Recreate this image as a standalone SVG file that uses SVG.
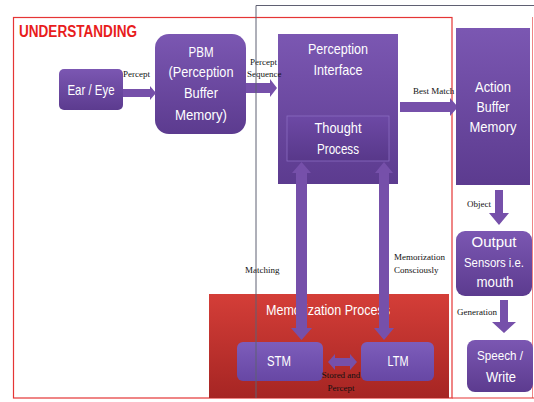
<svg xmlns="http://www.w3.org/2000/svg" width="534" height="402" viewBox="0 0 534 402">
<defs>
<linearGradient id="gp" x1="0" y1="0" x2="0" y2="1"><stop offset="0" stop-color="#7b57b2"/><stop offset="1" stop-color="#5c3b8f"/></linearGradient>
<linearGradient id="gt" x1="0" y1="0" x2="0" y2="1"><stop offset="0" stop-color="#6d49a5"/><stop offset="1" stop-color="#58388a"/></linearGradient>
<linearGradient id="gs" x1="0" y1="0" x2="0" y2="1"><stop offset="0" stop-color="#7d5dbb"/><stop offset="1" stop-color="#6747a4"/></linearGradient>
<linearGradient id="gr" x1="0" y1="0" x2="0" y2="1"><stop offset="0" stop-color="#d43e38"/><stop offset="1" stop-color="#a62523"/></linearGradient>
</defs>
<style>
.box{fill:url(#gp)}
.bt{font-family:"Liberation Sans",Arial,sans-serif;font-size:15px;fill:#fff;text-anchor:middle}
.sm{font-size:13.5px}
.lb{font-family:"Liberation Serif","Times New Roman",serif;font-size:9px;fill:#111}
.ar{fill:#7650aa}
</style>
<rect width="534" height="402" fill="#fff"/>
<g id="understanding">
<rect x="13.5" y="17.5" width="438.5" height="380.5" fill="none" stroke="#e53535" stroke-width="1.2"/>
<line x1="452" y1="398" x2="534" y2="398" stroke="#e53535" stroke-width="1.2"/>
<line x1="532.5" y1="17" x2="532.5" y2="398" stroke="#e53535" stroke-width="1" opacity="0.6"/>
<text x="19" y="37" font-family="Liberation Sans,Arial,sans-serif" font-weight="bold" font-size="16" fill="#e81c1c" textLength="118" lengthAdjust="spacingAndGlyphs">UNDERSTANDING</text>
</g>
<g id="ear-eye">
<rect class="box" x="59" y="69" width="64" height="41" rx="5"/>
<text class="bt" x="91" y="95" textLength="47" lengthAdjust="spacingAndGlyphs">Ear / Eye</text>
</g>
<g id="pbm">
<rect class="box" x="155" y="34" width="91" height="100" rx="14"/>
<text class="bt" x="201" y="57" textLength="25" lengthAdjust="spacingAndGlyphs">PBM</text>
<text class="bt" x="201" y="77" textLength="65" lengthAdjust="spacingAndGlyphs">(Perception</text>
<text class="bt" x="201" y="98" textLength="34" lengthAdjust="spacingAndGlyphs">Buffer</text>
<text class="bt" x="201" y="120" textLength="52" lengthAdjust="spacingAndGlyphs">Memory)</text>
</g>
<g id="perception-interface">
<rect class="box" x="278" y="34" width="120" height="150"/>
<text class="bt" x="338" y="54" textLength="60" lengthAdjust="spacingAndGlyphs">Perception</text>
<text class="bt" x="338" y="75" textLength="49" lengthAdjust="spacingAndGlyphs">Interface</text>
</g>
<g id="thought-process">
<rect x="287" y="116" width="102" height="45" fill="url(#gt)" stroke="#8a6cc0" stroke-width="0.8"/>
<text class="bt" x="338" y="133" textLength="47" lengthAdjust="spacingAndGlyphs">Thought</text>
<text class="bt" x="338" y="154" textLength="42" lengthAdjust="spacingAndGlyphs">Process</text>
</g>
<g id="output-sensors">
<rect class="box" x="456" y="231" width="76" height="65" rx="9"/>
<text class="bt" x="494" y="247" textLength="45" lengthAdjust="spacingAndGlyphs">Output</text>
<text class="bt sm" x="494" y="267" textLength="60" lengthAdjust="spacingAndGlyphs">Sensors i.e.</text>
<text class="bt" x="495" y="287" textLength="37" lengthAdjust="spacingAndGlyphs">mouth</text>
</g>
<g id="speech-write">
<rect class="box" x="467" y="340" width="66" height="52" rx="8"/>
<text class="bt sm" x="500" y="360" textLength="46" lengthAdjust="spacingAndGlyphs">Speech /</text>
<text class="bt" x="501" y="382" textLength="30" lengthAdjust="spacingAndGlyphs">Write</text>
</g>
<g id="memorization-process">
<rect x="209" y="294" width="240" height="104" fill="url(#gr)"/>
<text class="bt" x="328" y="315" textLength="124" lengthAdjust="spacingAndGlyphs">Memorization Process</text>
</g>
<g id="stm">
<rect x="237" y="342" width="86" height="39" rx="6" fill="url(#gs)"/>
<text class="bt" x="279" y="366" textLength="24" lengthAdjust="spacingAndGlyphs">STM</text>
</g>
<g id="ltm">
<rect x="361" y="342" width="73" height="39" rx="6" fill="url(#gs)"/>
<text class="bt" x="398" y="366" textLength="21" lengthAdjust="spacingAndGlyphs">LTM</text>
</g>
<g id="connectors">
<polygon class="ar" points="123,89 150,89 150,86 156,93 150,100 150,97 123,97"/>
<text class="lb" x="123" y="77">Percept</text>
<polygon class="ar" points="246,83 270,83 270,79 277,88 270,97 270,93 246,93"/>
<text class="lb" x="250" y="65">Percept</text>
<text class="lb" x="247" y="77">Sequence</text>
<polygon class="ar" points="400,102 450,102 450,98 458,107 450,116 450,112 400,112"/>
<text class="lb" x="413" y="94">Best Match</text>
<polygon class="ar" points="301.5,162 311,173 307,173 307,328 312,328 301.5,340 291,328 296,328 296,173 292,173"/>
<text class="lb" x="245" y="273">Matching</text>
<polygon class="ar" points="384,162 393,173 389,173 389,328 394,328 384,340 374,328 379,328 379,173 375,173"/>
<text class="lb" x="394" y="260">Memorization</text>
<text class="lb" x="394" y="273">Consciously</text>
<polygon class="ar" points="328,362 335,354 335,358 350,358 350,354 357,362 350,370 350,366 335,366 335,370"/>
<text class="lb" x="341" y="378" text-anchor="middle">Stored and</text>
<text class="lb" x="341" y="391" text-anchor="middle">Percept</text>
<polygon class="ar" points="495,190 503,190 503,213 509,213 499,225 489,213 495,213"/>
<text class="lb" x="467" y="207">Object</text>
<polygon class="ar" points="500,300 508,300 508,322 516,322 504,333 492,322 500,322"/>
<text class="lb" x="457" y="315">Generation</text>
</g>
<g id="action-buffer-memory">
<rect class="box" x="456" y="28" width="74" height="157"/>
<text class="bt" x="493" y="92" textLength="36" lengthAdjust="spacingAndGlyphs">Action</text>
<text class="bt" x="493" y="112" textLength="33" lengthAdjust="spacingAndGlyphs">Buffer</text>
<text class="bt" x="493" y="132" textLength="47" lengthAdjust="spacingAndGlyphs">Memory</text>
</g>
<g id="frame">
<polyline points="256,398 256,5.5 534,5.5" fill="none" stroke="#5f6072" stroke-width="1"/>
</g>
</svg>
